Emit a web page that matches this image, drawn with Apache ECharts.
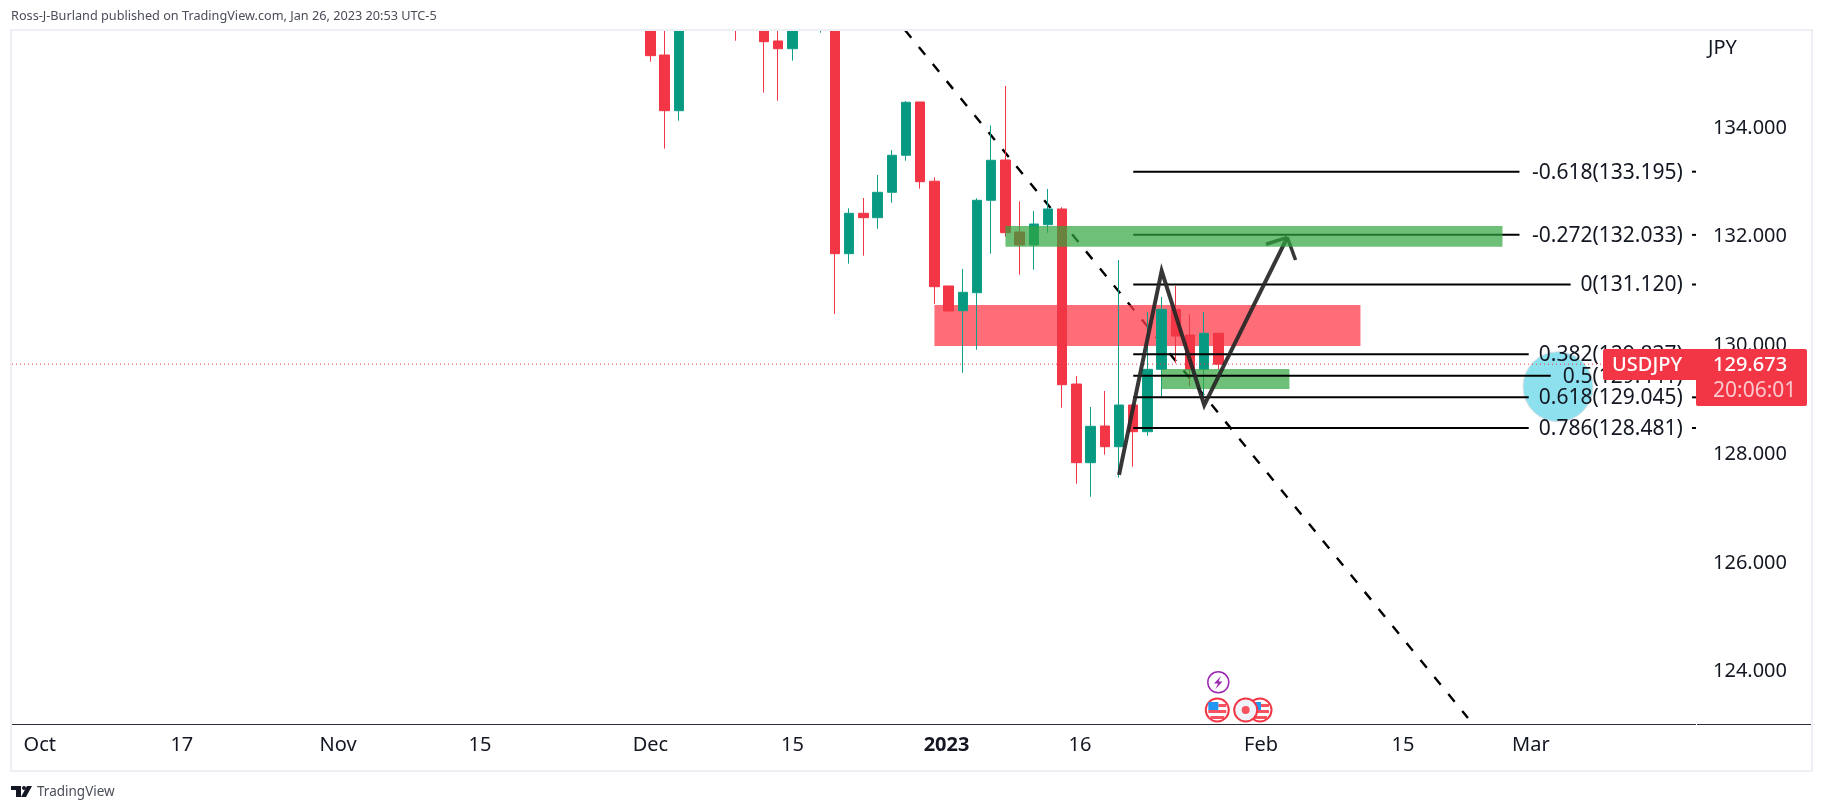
<!DOCTYPE html>
<html lang="en">
<head>
    <meta charset="UTF-8">
    <title>USDJPY</title>
    <script src="https://cdn.jsdelivr.net/npm/echarts@6/dist/echarts.min.js"></script>
    <style>
        html, body { margin: 0; padding: 0; background: #fff; }
        #chart { width: 1823px; height: 811px; }
    </style>
</head>
<body>
    <div id="chart"></div>
    <script>
        // x values are bar numbers, bar 0 = Dec 1 2022
        // [bar, open, close, low, high]
        const candles = [
            [0, 136.60, 135.329, 135.218, 136.90],
            [1, 135.341, 134.317, 133.618, 136.30],
            [2, 134.317, 136.10, 134.133, 136.30],
            [6, 136.20, 136.00, 135.604, 136.40],
            [8, 136.10, 135.586, 134.648, 136.30],
            [9, 135.599, 135.457, 134.501, 136.10],
            [10, 135.457, 136.00, 135.237, 136.20],
            [12, 136.00, 136.30, 135.752, 136.40],
            [13, 136.50, 131.687, 130.578, 136.60],
            [14, 131.687, 132.430, 131.503, 132.522],
            [15, 132.430, 132.349, 131.650, 132.711],
            [16, 132.349, 132.816, 132.147, 133.134],
            [17, 132.816, 133.497, 132.625, 133.594],
            [18, 133.497, 134.471, 133.397, 134.495],
            [19, 134.477, 133.011, 132.882, 134.477],
            [20, 133.020, 131.080, 130.761, 133.092],
            [21, 131.093, 130.633, 130.620, 131.093],
            [22, 130.638, 130.977, 129.498, 131.405],
            [23, 130.969, 132.669, 129.921, 132.706],
            [24, 132.669, 133.405, 131.687, 134.048],
            [25, 133.410, 132.073, 131.999, 134.771],
            [26, 132.086, 131.847, 131.301, 132.650],
            [27, 131.847, 132.233, 131.393, 132.472],
            [28, 132.220, 132.509, 132.073, 132.877],
            [29, 132.509, 129.277, 128.854, 132.540],
            [30, 129.290, 127.843, 127.456, 129.437],
            [31, 127.843, 128.512, 127.217, 128.867],
            [32, 128.518, 128.137, 127.990, 129.161],
            [33, 128.137, 128.904, 127.567, 131.571],
            [34, 128.904, 128.413, 127.769, 128.904],
            [35, 128.413, 129.560, 128.339, 130.614],
            [36, 129.560, 130.664, 129.051, 130.890],
            [37, 130.664, 130.173, 129.671, 131.093],
            [38, 130.191, 129.560, 129.253, 130.578],
            [39, 129.560, 130.223, 129.057, 130.614],
            [40, 130.223, 129.655, 129.560, 130.223]
        ];

        const xTickBars = [-43, -33, -22, -12, 0, 10, 20.85, 30.25, 43, 53, 62];
        const xTickLabels = ['Oct', '17', 'Nov', '15', 'Dec', '15', '2023', '16', 'Feb', '15', 'Mar'];
        const yTicks = [124, 126, 128, 130, 132, 134];

        const lastPrice = 129.655;

        const fibLevels = ['-0.618', '-0.272', '0', '0.382', '0.5', '0.618', '0.786'];
        const fibPrices = [133.195, 132.033, 131.120, 129.837, 129.441, 129.045, 128.481];
        const fibLineEnds = [61.2, 61.2, 64.8, 61.85, 63.4, 61.85, 61.85];
        const fibStartBar = 34;
        const fibLabelBar = 72.7;
        const fibTickBar = 73.35;

        // [bar from, bar to, price top, price bottom]
        const redZones = [[20, 50, 130.743, 129.989]];
        const upperGreenZone = [[25, 60, 132.196, 131.816]];
        const lowerGreenZone = [[36, 45, 129.566, 129.198]];

        const trendLine = [[17.92, 135.80], [57.57, 123.147]];
        const swingLine = [[33, 127.62], [36, 131.37], [39, 128.90], [44.85, 131.988]];
        const arrowWingA = [[43.35, 131.860], [44.85, 131.988]];
        const arrowWingB = [[44.85, 131.988], [45.43, 131.571]];

        const xMin = -44.96, xMax = 73.63;
        const yMin = 123.037, yMax = 135.801;

        const red = '#f23645';
        const green = '#089981';
        const labelFont = '"Noto Sans", sans-serif';

        function zoneSeries(data, color, z) {
            return {
                type: 'custom',
                z: z,
                silent: true,
                clip: true,
                data: data,
                encode: { x: [0, 1], y: [2, 3] },
                renderItem: function (params, api) {
                    let a = api.coord([api.value(0), api.value(2)]);
                    let b = api.coord([api.value(1), api.value(3)]);
                    return {
                        type: 'rect',
                        shape: { x: a[0], y: a[1], width: b[0] - a[0], height: b[1] - a[1] },
                        style: { fill: color }
                    };
                }
            };
        }

        function pathSeries(points, color, width, type, z) {
            return {
                type: 'line',
                z: z,
                silent: true,
                symbol: 'none',
                animation: false,
                data: points,
                lineStyle: { color: color, width: width, type: type, join: 'miter', opacity: 1 }
            };
        }

        let fibData = fibPrices.map((p, i) => [fibStartBar, fibLineEnds[i], p, i]);

        let fibSeries = {
            type: 'custom',
            z: 8,
            silent: true,
            clip: false,
            data: fibData,
            encode: { x: [0, 1], y: 2 },
            renderItem: function (params, api) {
                let idx = api.value(3);
                let a = api.coord([api.value(0), api.value(2)]);
                let b = api.coord([api.value(1), api.value(2)]);
                let t = api.coord([fibTickBar, api.value(2)]);
                let e = api.coord([xMax, api.value(2)]);
                let l = api.coord([fibLabelBar, api.value(2)]);
                return {
                    type: 'group',
                    children: [
                        { type: 'line', shape: { x1: a[0], y1: a[1], x2: b[0], y2: b[1] }, style: { stroke: '#000', lineWidth: 2 } },
                        { type: 'line', shape: { x1: t[0], y1: t[1], x2: e[0], y2: e[1] }, style: { stroke: '#000', lineWidth: 2 } },
                        {
                            type: 'text',
                            style: {
                                x: l[0], y: l[1] + 1,
                                text: fibLevels[idx] + '(' + fibPrices[idx].toFixed(3) + ')',
                                font: '21px ' + labelFont,
                                fill: '#131722',
                                align: 'right',
                                verticalAlign: 'middle'
                            }
                        }
                    ]
                };
            }
        };

        function flagIcon(cx, cy) {
            return {
                type: 'group',
                x: cx, y: cy,
                z: 60,
                children: [
                    { type: 'circle', shape: { cx: 0, cy: 0, r: 11.5 }, style: { fill: '#fff', stroke: '#f23645', lineWidth: 2 } },
                    { type: 'rect', shape: { x: -9, y: 0, width: 18, height: 3 }, style: { fill: '#f7525f' } },
                    { type: 'rect', shape: { x: -7, y: 6, width: 14, height: 3 }, style: { fill: '#f7525f' } },
                    { type: 'rect', shape: { x: 1, y: -6, width: 8, height: 3 }, style: { fill: '#f7525f' } },
                    { type: 'rect', shape: { x: -9, y: -8, width: 10, height: 8 }, style: { fill: '#2196f3' } }
                ]
            };
        }

        let chart = echarts.init(document.getElementById('chart'), null, { renderer: 'canvas' });

        let option = {
            animation: false,
            backgroundColor: '#fff',
            grid: { left: 12, right: 127, top: 30, bottom: 87, containLabel: false },
            xAxis: {
                type: 'value',
                min: xMin,
                max: xMax,
                splitLine: { show: false },
                axisLine: { show: false },
                axisTick: { show: false },
                axisLabel: {
                    customValues: xTickBars,
                    margin: 11,
                    color: '#131722',
                    fontFamily: labelFont,
                    fontSize: 20,
                    hideOverlap: false,
                    formatter: function (v) {
                        let label = xTickLabels[xTickBars.indexOf(v)];
                        return label === '2023' ? '{b|' + label + '}' : label;
                    },
                    rich: { b: { fontWeight: 'bold', fontSize: 20, fontFamily: labelFont, color: '#131722' } }
                }
            },
            yAxis: {
                type: 'value',
                position: 'right',
                min: yMin,
                max: yMax,
                scale: true,
                splitLine: { show: false },
                axisLine: { show: false },
                axisTick: { show: false },
                axisLabel: {
                    customValues: yTicks,
                    margin: 17,
                    padding: [4, 0, 0, 0],
                    color: '#131722',
                    fontFamily: labelFont,
                    fontSize: 20,
                    formatter: v => v.toFixed(3)
                }
            },
            series: [
                pathSeries(trendLine, '#000', 2.4, [10, 12], 2),
                zoneSeries(redZones, 'rgba(255,60,75,0.75)', 3),
                {
                    type: 'candlestick',
                    z: 4,
                    silent: true,
                    barWidth: 10,
                    data: candles,
                    encode: { x: 0, y: [1, 2, 3, 4] },
                    itemStyle: {
                        color: green,
                        color0: red,
                        borderColor: '#0f9f88',
                        borderColor0: red,
                        borderWidth: 1
                    }
                },
                zoneSeries(lowerGreenZone, 'rgba(48,165,62,0.7)', 5),
                fibSeries,
                pathSeries([[xMin, lastPrice], [xMax, lastPrice]], red, 1, [1, 3], 9),
                pathSeries(swingLine, 'rgba(38,38,38,0.92)', 4, 'solid', 10),
                pathSeries(arrowWingA, 'rgba(38,38,38,0.92)', 3.5, 'solid', 10),
                pathSeries(arrowWingB, 'rgba(38,38,38,0.92)', 3.5, 'solid', 10),
                zoneSeries(upperGreenZone, 'rgba(48,165,62,0.7)', 11)
            ],
            graphic: [
                // candles run off the top of the pane, the mask cuts them there
                { type: 'rect', z: 20, shape: { x: 0, y: 0, width: 1823, height: 30 }, style: { fill: '#fff' } },
                // frame
                { type: 'rect', z: 30, shape: { x: 11, y: 30, width: 1801, height: 741 }, style: { fill: 'none', stroke: '#eeeff4', lineWidth: 2 } },
                // time axis line, broken where the price axis starts
                { type: 'line', z: 30, shape: { x1: 12, y1: 724.5, x2: 1696, y2: 724.5 }, style: { stroke: '#2a2e39', lineWidth: 1 } },
                { type: 'line', z: 30, shape: { x1: 1697, y1: 724.5, x2: 1811, y2: 724.5 }, style: { stroke: '#2a2e39', lineWidth: 1 } },
                { type: 'text', z: 60, style: { x: 11, y: 16, text: 'Ross-J-Burland published on TradingView.com, Jan 26, 2023 20:53 UTC-5', font: '12.7px "Noto Sans", sans-serif', fill: '#4a4e59', verticalAlign: 'middle' } },
                { type: 'text', z: 60, style: { x: 1708, y: 48, text: 'JPY', font: '20px ' + labelFont, fill: '#131722', verticalAlign: 'middle' } },
                // footer logo
                { type: 'polygon', z: 60, shape: { points: [[11, 786], [21, 786], [21, 797], [16, 797], [16, 790], [11, 790]] }, style: { fill: '#131722' } },
                { type: 'circle', z: 60, shape: { cx: 24, cy: 788, r: 2 }, style: { fill: '#131722' } },
                { type: 'polygon', z: 60, shape: { points: [[27, 786], [32, 786], [26, 797], [21, 797]] }, style: { fill: '#131722' } },
                { type: 'text', z: 60, style: { x: 37, y: 792, text: 'TradingView', font: '13.5px "Noto Sans", sans-serif', fill: '#4a4e59', verticalAlign: 'middle' } },
                // highlight circle
                { type: 'circle', z: 1, shape: { cx: 1558, cy: 386.7, r: 35 }, style: { fill: '#8de1ee', stroke: '#dcdfe4', lineWidth: 1 } },
                // symbol / price tag
                { type: 'rect', z: 70, shape: { x: 1603, y: 349, width: 204, height: 31, r: [2, 2, 0, 2] }, style: { fill: red } },
                { type: 'rect', z: 70, shape: { x: 1696, y: 380, width: 111, height: 26, r: [0, 0, 2, 2] }, style: { fill: red } },
                { type: 'text', z: 71, style: { x: 1612, y: 365, text: 'USDJPY', font: '500 20px ' + labelFont, fill: '#fff', verticalAlign: 'middle' } },
                { type: 'text', z: 71, style: { x: 1713, y: 365, text: '129.673', font: '500 20px ' + labelFont, fill: '#fff', verticalAlign: 'middle' } },
                { type: 'text', z: 71, style: { x: 1713, y: 391, text: '20:06:01', font: '21px ' + labelFont, fill: '#fcc8cd', verticalAlign: 'middle' } },
                // event icons
                { type: 'circle', z: 60, shape: { cx: 1218.3, cy: 682.3, r: 10.5 }, style: { fill: '#fff', stroke: '#9c27b0', lineWidth: 1.5 } },
                { type: 'polygon', z: 61, shape: { points: [[1221, 676], [1214, 683.5], [1218, 683.5], [1215.5, 689], [1222.5, 681.5], [1218.5, 681.5]] }, style: { fill: '#9c27b0' } },
                flagIcon(1260, 710),
                flagIcon(1217.3, 710),
                { type: 'circle', z: 62, shape: { cx: 1245.7, cy: 710, r: 11.5 }, style: { fill: '#f0f3fa', stroke: '#f23645', lineWidth: 2 } },
                { type: 'circle', z: 63, shape: { cx: 1245.7, cy: 710, r: 4 }, style: { fill: '#f7525f' } }
            ]
        };

        chart.setOption(option);
    </script>
</body>
</html>
